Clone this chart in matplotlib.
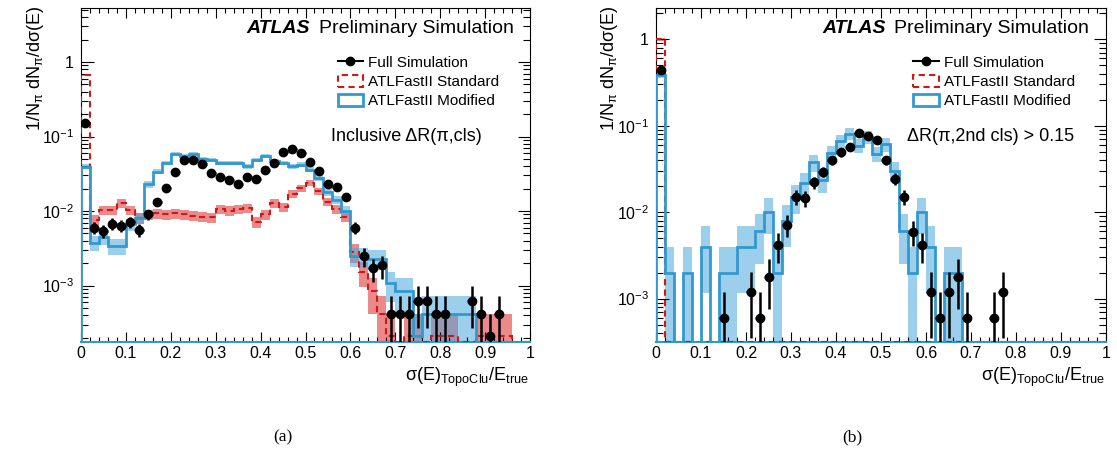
import numpy as np
import matplotlib
matplotlib.use('Agg')
import matplotlib.pyplot as plt
from matplotlib.lines import Line2D
from matplotlib.patches import Patch
from matplotlib.ticker import FixedLocator, LogLocator, NullFormatter, MultipleLocator

plt.rcParams['font.family'] = ['Liberation Sans', 'DejaVu Sans']
plt.rcParams['mathtext.fontset'] = 'custom'
plt.rcParams['mathtext.rm'] = 'Liberation Sans'
plt.rcParams['mathtext.it'] = 'Liberation Sans:italic'
plt.rcParams['mathtext.bf'] = 'Liberation Sans:bold'

# 50 bins of 0.02 in sigma(E)/E_true
edges = np.linspace(0, 1, 51)
xticks = [0, 0.1, 0.2, 0.3, 0.4, 0.5, 0.6, 0.7, 0.8, 0.9, 1]
xticklabels = ['0', '0.1', '0.2', '0.3', '0.4', '0.5', '0.6', '0.7', '0.8', '0.9', '1']

# (a) inclusive
full_a = [0.153, 0.0060, 0.00544, 0.00676, 0.00635, 0.00705, 0.00556, 0.00903, 0.0133, 0.0204,
          0.033, 0.0484, 0.049, 0.0423, 0.032, 0.0289, 0.0258, 0.0228, 0.0283, 0.0269,
          0.0359, 0.0446, 0.0614, 0.0687, 0.0607, 0.0455, 0.0344, 0.0228, 0.0208, 0.0156,
          0.0060, 0.00249, 0.0017, 0.00187, 0.00042, 0.00042, 0.00042, 0.00063, 0.00063, 0.00042,
          0.00042, 0, 0, 0.00063, 0.00042, 0.00021, 0.00042, 0, 0, 0]
std_a = [0.67, 0.0076, 0.0103, 0.0103, 0.0127, 0.0103, 0.008, 0.009, 0.0093, 0.009,
         0.0093, 0.009, 0.0087, 0.0084, 0.0082, 0.0106, 0.0101, 0.0106, 0.0109, 0.0072,
         0.009, 0.0127, 0.0112, 0.0170, 0.0203, 0.024, 0.0185, 0.0133, 0.0106, 0.0084,
         0.0028, 0.00153, 0.00084, 0.00042, 0.00021, 0, 0.00021, 0.00021, 0, 0.00021,
         0.00021, 0.00021, 0, 0, 0.00021, 0.00021, 0.00021, 0.00021, 0, 0]
mod_a = [0.0393, 0.00376, 0.00443, 0.00339, 0.00339, 0.00663, 0.00798, 0.0228, 0.0337, 0.0446,
         0.058, 0.0555, 0.058, 0.050, 0.049, 0.044, 0.0445, 0.044, 0.040, 0.049,
         0.055, 0.047, 0.044, 0.040, 0.042, 0.036, 0.028, 0.018, 0.0142, 0.0101,
         0.0025, 0.0025, 0.0023, 0.0023, 0.00107, 0.00085, 0.00085, 0.00021, 0.00042, 0.00042,
         0.00042, 0.00042, 0.00042, 0.00042, 0, 0, 0, 0, 0, 0]

# (b) dR(pi, 2nd cls) > 0.15
full_b = [0.44, 0, 0, 0, 0, 0, 0, 0.0006, 0, 0,
          0.0012, 0.0006, 0.0018, 0.0042, 0.0072, 0.015, 0.0145, 0.0222, 0.0294, 0.0401,
          0.0492, 0.0568, 0.0817, 0.0767, 0.0678, 0.0401, 0.0244, 0.015, 0.00595, 0.0042,
          0.0012, 0.0006, 0.0012, 0.0018, 0.0006, 0, 0, 0.0006, 0.0012, 0,
          0, 0, 0, 0, 0, 0, 0, 0, 0, 0]
std_b = [1.0] + [0] * 49
mod_b = [0.386, 0.002, 0, 0.002, 0, 0.004, 0, 0.002, 0.002, 0.004,
         0.004, 0.006, 0.010, 0.002, 0.008, 0.015, 0.022, 0.0377, 0.0236, 0.048,
         0.0671, 0.0809, 0.0587, 0.0737, 0.0475, 0.0613, 0.030, 0.006, 0.002, 0.010,
         0.004, 0, 0.002, 0.002, 0, 0, 0, 0, 0, 0,
         0, 0, 0, 0, 0, 0, 0, 0, 0, 0]

# weight of one event in each sample (Poisson errors)
unit_a = {'full': 0.00021, 'std': 0.00021, 'mod': 0.00021}
unit_b = {'full': 0.0006, 'std': 0.002, 'mod': 0.002}

annot = ['Inclusive \u0394R(\u03c0,cls)', '\u0394R(\u03c0,2nd cls) > 0.15']
ylims = [(1.75e-4, 5.3), (3.15e-4, 2.3)]

BLUE = '#3399cc'
RED = '#d01818'

fig = plt.figure(figsize=(11.17, 4.57), dpi=100)
ax1 = fig.add_axes([81/1117, 1-342/457, 449/1117, 334/457])
ax2 = fig.add_axes([656/1117, 1-342/457, 450/1117, 334/457])


def draw(ax, full, std, mod, unit, ylim, text):
    full, std, mod = np.array(full), np.array(std), np.array(mod)
    ymin = ylim[0]
    centers = 0.5 * (edges[1:] + edges[:-1])
    # uncertainty bands
    for v, u, c, a in [(std, unit['std'], '#e03a3a', 0.6), (mod, unit['mod'], '#4aa8dc', 0.55)]:
        err = np.sqrt(v * u)
        lo = np.clip(v - err, ymin * 0.5, None)
        hi = v + err
        m = v > 0
        ax.bar(centers[m], hi[m] - lo[m], width=0.02, bottom=lo[m], color=c, alpha=a,
               linewidth=0, zorder=1)
    ax.stairs(np.where(std > 0, std, ymin), edges, baseline=ymin, color=RED,
              lw=1.5, ls=(0, (3, 2)), zorder=3)
    ax.stairs(np.where(mod > 0, mod, ymin), edges, baseline=ymin, color=BLUE,
              lw=2, zorder=4)
    m = full > 0
    err = np.sqrt(full * unit['full'])
    ax.errorbar(centers[m], full[m], xerr=0.01, yerr=[np.minimum(err, full * 0.999)[m], err[m]],
                fmt='o', color='k', ms=6, elinewidth=1.8, capsize=0, zorder=5)

    ax.set_yscale('log')
    ax.set_xlim(0, 1)
    ax.set_ylim(*ylim)
    ax.set_xticks(xticks)
    ax.set_xticklabels(xticklabels)
    ax.xaxis.set_minor_locator(MultipleLocator(0.02))
    ax.yaxis.set_major_locator(FixedLocator([1e-3, 1e-2, 1e-1, 1]))
    ax.set_yticklabels(['$10^{-3}$', '$10^{-2}$', '$10^{-1}$', '1'])
    ax.yaxis.set_minor_locator(LogLocator(base=10, subs=np.arange(2, 10)))
    ax.yaxis.set_minor_formatter(NullFormatter())
    ax.tick_params(which='both', direction='in', top=True, right=True, labelsize=11.5, width=0.8)
    ax.tick_params(axis='x', which='major', length=7, pad=3)
    ax.tick_params(axis='x', which='minor', length=3.6)
    ax.tick_params(axis='y', which='major', length=9, pad=5)
    ax.tick_params(axis='y', which='minor', length=5)
    ax.spines['bottom'].set_color(BLUE)
    ax.spines['bottom'].set_linewidth(1.5)

    ax.text(0.369, 0.94, 'ATLAS', transform=ax.transAxes, fontsize=14, fontweight='bold',
            style='italic', ha='left', va='center')
    ax.text(0.530, 0.94, 'Preliminary Simulation', transform=ax.transAxes, fontsize=14,
            ha='left', va='center')
    ax.text(0.557, 0.614, text, transform=ax.transAxes, fontsize=13, ha='left', va='center')

    handles = [Line2D([], [], color='k', marker='o', ms=6, lw=1.5),
               Patch(facecolor='white', edgecolor=RED, ls=(0, (3, 2)), lw=1.5),
               Patch(facecolor='white', edgecolor=BLUE, lw=2)]
    ax.legend(handles, ['Full Simulation', 'ATLFastII Standard', 'ATLFastII Modified'],
              loc='upper left', bbox_to_anchor=(0.572, 0.858), frameon=False, fontsize=11,
              handlelength=1.65, handleheight=0.9, handletextpad=0.35, labelspacing=0.3,
              borderpad=0, borderaxespad=0)


draw(ax1, full_a, std_a, mod_a, unit_a, ylims[0], annot[0])
draw(ax2, full_b, std_b, mod_b, unit_b, ylims[1], annot[1])

ylabel = '1/N$_{\\mathregular{\u03c0}}$ dN$_{\\mathregular{\u03c0}}$/d\u03c3(E)'
xlabel = '\u03c3(E)$_{\\mathregular{TopoClu}}$/E$_{\\mathregular{true}}$'
for xl, xr, sub, xs in [(35, 529, '(a)', 283), (610, 1105, '(b)', 852)]:
    fig.text(xl/1117, 1-5/457, ylabel, rotation=90, ha='center', va='top', fontsize=13)
    fig.text(xr/1117, 1-366/457, xlabel, ha='right', va='top', fontsize=13)
    fig.text(xs/1117, 1-437/457, sub, ha='center', va='center', fontsize=12.5,
             family='Liberation Serif')

fig.savefig('out.png', dpi=100)
